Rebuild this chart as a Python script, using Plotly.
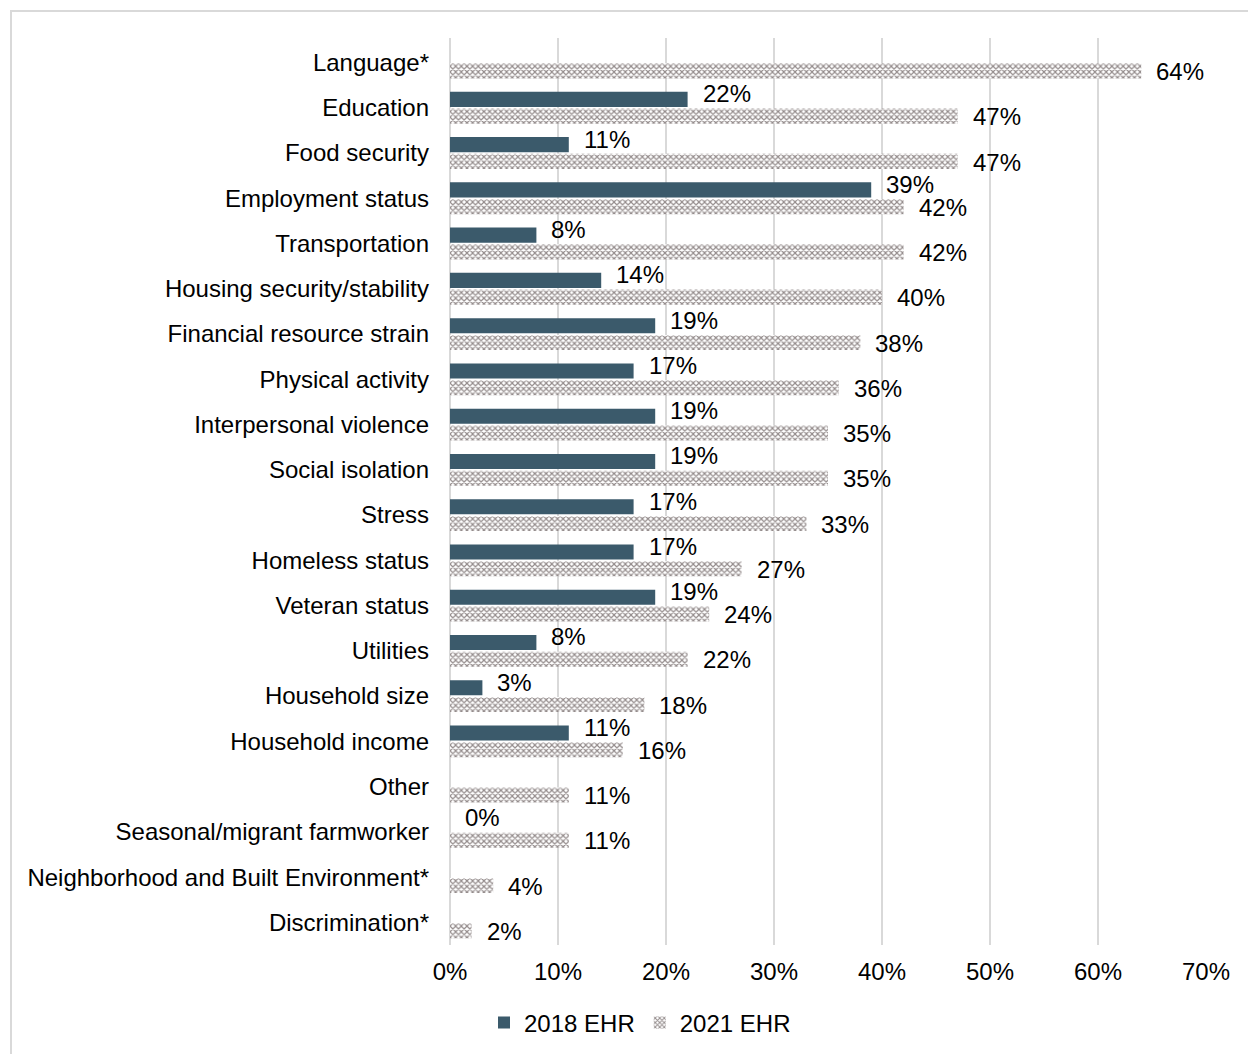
import plotly.graph_objects as go

# Social needs screening domains captured in the EHR, 2018 vs 2021
categories = [
    "Language*", "Education", "Food security", "Employment status",
    "Transportation", "Housing security/stability", "Financial resource strain",
    "Physical activity", "Interpersonal violence", "Social isolation", "Stress",
    "Homeless status", "Veteran status", "Utilities", "Household size",
    "Household income", "Other", "Seasonal/migrant farmworker",
    "Neighborhood and Built Environment*", "Discrimination*",
]
ehr_2018 = [None, 22, 11, 39, 8, 14, 19, 17, 19, 19, 17, 17, 19, 8, 3, 11, None, 0, None, None]
ehr_2021 = [64, 47, 47, 42, 42, 40, 38, 36, 35, 35, 33, 27, 24, 22, 18, 16, 11, 11, 4, 2]
x_ticks = [0, 10, 20, 30, 40, 50, 60, 70]
x_tick_labels = [f"{t}%" for t in x_ticks]

FONT = "Liberation Sans, Arial, sans-serif"
FS = 24
DARK = "#3b5a6b"
GRID = "#d9d9d9"

fig = go.Figure()
fig.add_trace(go.Bar(
    name="2018 EHR", y=categories, x=ehr_2018, orientation="h",
    marker=dict(color=DARK, line=dict(width=0)),
))
fig.add_trace(go.Bar(
    name="2021 EHR", y=categories, x=ehr_2021, orientation="h",
    marker=dict(
        color="white",
        line=dict(width=0),
        pattern=dict(shape="x", size=4, solidity=0.5, fgcolor="#948c8c", bgcolor="white", fillmode="replace"),
    ),
))

# value labels to the right of each bar
annotations = []
for cat, v in zip(categories, ehr_2018):
    if v is None:
        continue
    annotations.append(dict(x=v, y=cat, text=f"{v}%", showarrow=False, xanchor="left",
                            xshift=13, yshift=14, font=dict(family=FONT, size=FS, color="#000")))
for cat, v in zip(categories, ehr_2021):
    annotations.append(dict(x=v, y=cat, text=f"{v}%", showarrow=False, xanchor="left",
                            xshift=13, yshift=-9, font=dict(family=FONT, size=FS, color="#000")))

W, H = 1248, 1054
L, R, T, B = 450, 42, 38, 109
pw, ph = W - L - R, H - T - B


def px_x(p):
    return (p - L) / pw


def px_y(p):
    return (H - B - p) / ph


fig.update_layout(
    width=W, height=H,
    margin=dict(l=L, r=R, t=T, b=B, autoexpand=False),
    paper_bgcolor="white", plot_bgcolor="white",
    font=dict(family=FONT, size=FS, color="#000"),
    barmode="group", bargap=0.26, bargroupgap=0.1,
    showlegend=True,
    legend=dict(orientation="h", x=px_x(640), y=px_y(1023), xanchor="center", yanchor="middle",
                font=dict(family=FONT, size=FS, color="#000"), itemwidth=30, tracegroupgap=0),
    annotations=annotations,
    shapes=[dict(type="rect", xref="paper", yref="paper",
                 x0=px_x(11), x1=px_x(1262), y0=px_y(1068), y1=px_y(11),
                 line=dict(color=GRID, width=2), fillcolor="rgba(0,0,0,0)", layer="below")],
)
fig.update_xaxes(
    range=[0, 70], tickvals=x_ticks, ticktext=x_tick_labels, automargin=False,
    showgrid=True, gridcolor=GRID, gridwidth=2, zeroline=True, zerolinecolor=GRID, zerolinewidth=2,
    showline=False, ticks="", ticklabelstandoff=10, tickfont=dict(family=FONT, size=FS, color="#000"),
)
fig.update_yaxes(
    categoryorder="array", categoryarray=categories, autorange="reversed", automargin=False,
    showgrid=False, zeroline=False, showline=False, ticks="", ticklabelstandoff=20,
    tickfont=dict(family=FONT, size=FS, color="#000"),
)

fig.write_html("out.html")
